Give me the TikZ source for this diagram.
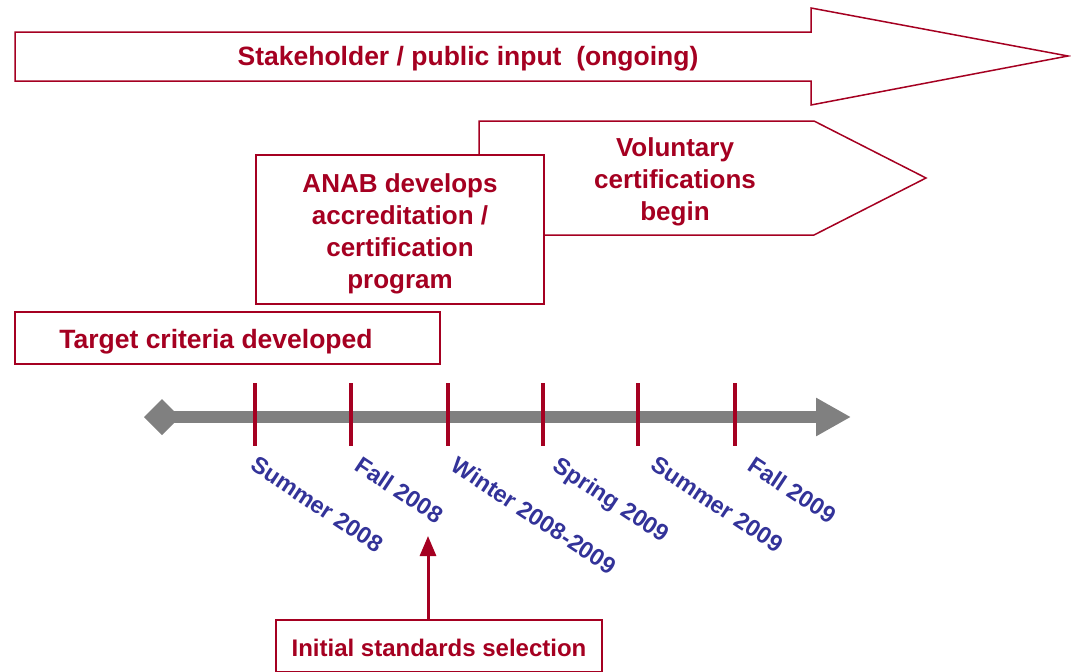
\documentclass[tikz,border=0pt]{standalone}
\usepackage{fontspec}
\setmainfont{Liberation Sans}
\usetikzlibrary{arrows.meta}
\definecolor{brick}{RGB}{165,0,33}
\definecolor{navy}{RGB}{51,51,153}
\definecolor{tlgray}{RGB}{128,128,128}
\begin{document}
\begin{tikzpicture}[x=1pt,y=-1pt,
  outline/.style={draw=brick,line width=1.5pt,fill=white},
  redtext/.style={text=brick,font=\bfseries\fontsize{26}{32}\selectfont,align=center,inner sep=0pt},
  datelabel/.style={text=navy,font=\bfseries\fontsize{23.5}{28}\selectfont,rotate=-33.5,anchor=north west,inner sep=0pt},
  tickmark/.style={draw=brick,line width=4pt},
  pointer/.style={draw=brick,line width=3pt,-{Triangle[length=20pt,width=16pt]}}
]
\useasboundingbox (0,0) rectangle (1071,672);
% top arrow
\draw[outline] (15,32) -- (811,32) -- (811,8) -- (1068,56) -- (811,105) -- (811,81) -- (15,81) -- cycle;
\node[redtext,font=\bfseries\fontsize{26.5}{32}\selectfont] (stake) at (468,59) {Stakeholder / public input\ \ (ongoing)};
% voluntary arrow
\draw[outline] (479,121) -- (814,121) -- (926,178) -- (814,235) -- (479,235) -- cycle;
\node[redtext] (vol) at (675,182) {Voluntary\\certifications\\begin};
% ANAB box
\node[outline,minimum width=288pt,minimum height=149pt,inner sep=0pt] (anab) at (400,229.5) {};
\node[redtext] (anabtext) at (400,233.5) {ANAB develops\\accreditation /\\certification\\program};
% target box
\node[outline,minimum width=425pt,minimum height=52pt,inner sep=0pt] (target) at (227.5,338) {};
\node[redtext,font=\bfseries\fontsize{26.5}{32}\selectfont] (targettext) at (216,342) {Target criteria developed};
% timeline
\coordinate (tl) at (144,417);
\coordinate (tr) at (851,417);
\draw[tlgray,line width=12pt,{Diamond[length=36pt,width=36pt]}-{Triangle[length=35pt,width=36pt]}] (tl) -- (tr);
\foreach \x/\n in {255/a,351/b,448/c,543/d,638/e,735/f}{
  \coordinate (t\n top) at (\x,383);
  \coordinate (t\n bot) at (\x,446);
  \draw[tickmark] (t\n top) -- (t\n bot);
}
\node[datelabel] (l1) at (258,455) {Summer 2008};
\node[datelabel] (l2) at (363,455) {Fall 2008};
\node[datelabel] (l3) at (459,455) {Winter 2008-2009};
\node[datelabel] (l4) at (561,455) {Spring 2009};
\node[datelabel] (l5) at (658,455) {Summer 2009};
\node[datelabel] (l6) at (756,455) {Fall 2009};
% initial standards
\node[outline,minimum width=326pt,minimum height=52pt,inner sep=0pt] (init) at (439,646) {};
\node[text=brick,font=\bfseries\fontsize{24}{28}\selectfont,inner sep=0pt] (inittext) at (439,648) {Initial standards selection};
\coordinate (initarrow) at (428,536);
\draw[pointer] (init.north -| initarrow) -- (initarrow);
\end{tikzpicture}
\end{document}
